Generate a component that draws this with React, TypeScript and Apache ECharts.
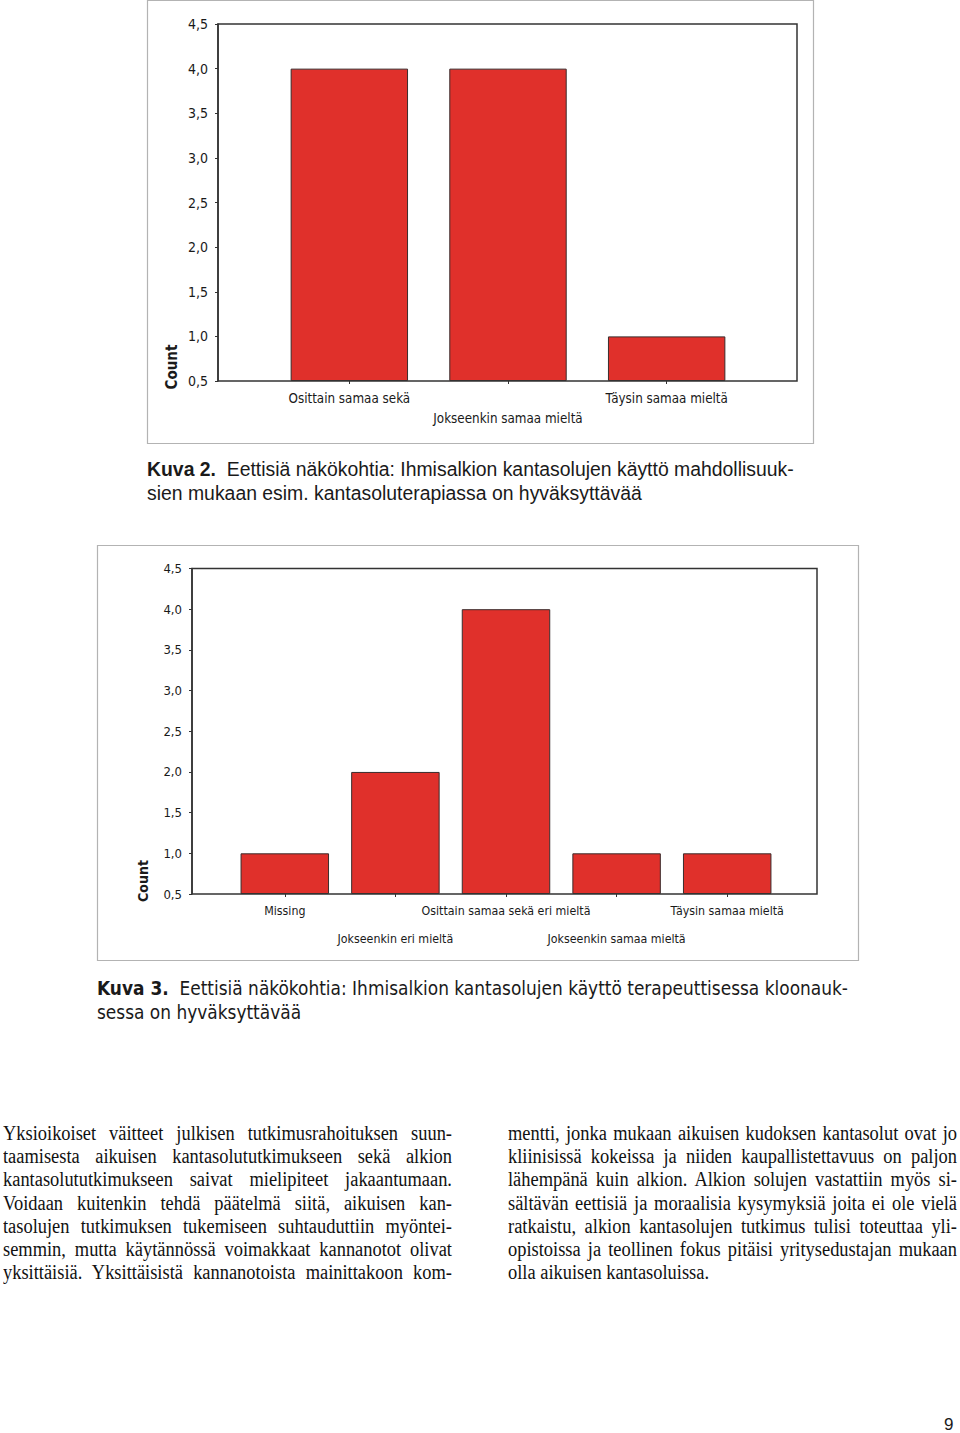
import React, { useEffect, useRef } from 'react';
import * as echarts from 'echarts';

// ---- data ----
const chart1Categories = ['Osittain samaa sekä', 'Jokseenkin samaa mieltä', 'Täysin samaa mieltä'];
const chart1Counts = [4, 4, 1];

const chart2Categories = [
  'Missing',
  'Jokseenkin eri mieltä',
  'Osittain samaa sekä eri mieltä',
  'Jokseenkin samaa mieltä',
  'Täysin samaa mieltä',
];
const chart2Counts = [1, 2, 4, 1, 1];

const yMin = 0.5;
const yMax = 4.5;
const yStep = 0.5;
const yAxisTitle = 'Count';

const caption2Lines = [
  ['Kuva 2.', '  Eettisiä näkökohtia: Ihmisalkion kantasolujen käyttö mahdollisuuk-'],
  ['', 'sien mukaan esim. kantasoluterapiassa on hyväksyttävää'],
];
const caption3Lines = [
  ['Kuva 3.', '  Eettisiä näkökohtia: Ihmisalkion kantasolujen käyttö terapeuttisessa kloonauk-'],
  ['', 'sessa on hyväksyttävää'],
];

const leftColumn = [
  'Yksioikoiset väitteet julkisen tutkimusrahoituksen suun-',
  'taamisesta aikuisen kantasolututkimukseen sekä alkion',
  'kantasolututkimukseen saivat mielipiteet jakaantumaan.',
  'Voidaan kuitenkin tehdä päätelmä siitä, aikuisen kan-',
  'tasolujen tutkimuksen tukemiseen suhtauduttiin myöntei-',
  'semmin, mutta käytännössä voimakkaat kannanotot olivat',
  'yksittäisiä. Yksittäisistä kannanotoista mainittakoon kom-',
];
const rightColumn = [
  'mentti, jonka mukaan aikuisen kudoksen kantasolut ovat jo',
  'kliinisissä kokeissa ja niiden kaupallistettavuus on paljon',
  'lähempänä kuin alkion. Alkion solujen vastattiin myös si-',
  'sältävän eettisiä ja moraalisia kysymyksiä joita ei ole vielä',
  'ratkaistu, alkion kantasolujen tutkimus tulisi toteuttaa yli-',
  'opistoissa ja teollinen fokus pitäisi yritysedustajan mukaan',
  'olla aikuisen kantasoluissa.',
];
const pageNumber = '9';

const NARROW = "'Liberation Sans Narrow', 'DejaVu Sans Condensed', 'Liberation Sans', sans-serif";

type Layout = {
  frame: [number, number, number, number];
  plotLeft: number;
  plotRight: number;
  plotTop: number;
  plotBottom: number;
  bandLeft: number;
  bandRight: number;
  gap: string;
  labelSize: number;
  labelLine: number;
  labelMargin: number;
  tickSize: number;
  countX: number;
  countY: number;
  countSize: number;
};

function buildOption(cats: string[], vals: number[], L: Layout) {
  return {
    animation: false,
    grid: {
      left: L.bandLeft,
      top: L.plotTop,
      width: L.bandRight - L.bandLeft,
      height: L.plotBottom - L.plotTop,
      containLabel: false,
    },
    xAxis: {
      type: 'category',
      data: cats,
      axisLine: { show: false },
      axisTick: { show: true, alignWithLabel: true, length: 3, lineStyle: { color: '#333', width: 1 } },
      axisLabel: {
        interval: 0,
        margin: L.labelMargin,
        fontSize: L.labelSize,
        lineHeight: L.labelLine,
        color: '#1a1a1a',
        fontFamily: NARROW,
        formatter: (v: string, i: number) => (i % 2 ? '\n' + v : v),
      },
    },
    yAxis: {
      type: 'value',
      min: yMin,
      max: yMax,
      interval: yStep,
      startValue: yMin,
      offset: L.bandLeft - L.plotLeft,
      splitLine: { show: false },
      axisLine: { show: true, lineStyle: { color: '#333', width: 1.5 } },
      axisTick: { show: true, length: 3, lineStyle: { color: '#333', width: 1 } },
      axisLabel: {
        margin: 10,
        fontSize: L.tickSize,
        color: '#1a1a1a',
        fontFamily: NARROW,
        formatter: (v: number) => v.toFixed(1).replace('.', ','),
      },
    },
    series: [
      {
        type: 'bar',
        data: vals,
        barCategoryGap: L.gap,
        itemStyle: { color: '#e0302b', borderColor: '#3a2c2c', borderWidth: 1 },
      },
    ],
    graphic: [
      {
        type: 'rect',
        z: 0,
        shape: { x: L.frame[0], y: L.frame[1], width: L.frame[2], height: L.frame[3] },
        style: { fill: 'none', stroke: '#b3b3b3', lineWidth: 1.2 },
      },
      {
        type: 'rect',
        z: 100,
        shape: {
          x: L.plotLeft,
          y: L.plotTop,
          width: L.plotRight - L.plotLeft,
          height: L.plotBottom - L.plotTop,
        },
        style: { fill: 'none', stroke: '#333', lineWidth: 1.5 },
      },
      {
        type: 'text',
        x: L.countX,
        y: L.countY,
        rotation: Math.PI / 2,
        style: {
          text: yAxisTitle,
          font: `bold ${L.countSize}px ${NARROW}`,
          fill: '#1a1a1a',
          textAlign: 'center',
          textVerticalAlign: 'middle',
        },
      },
    ],
  };
}

const layout1: Layout = {
  frame: [147.5, 0.5, 666, 443],
  plotLeft: 218,
  plotRight: 797,
  plotTop: 24,
  plotBottom: 381,
  bandLeft: 270,
  bandRight: 746,
  gap: '26%',
  labelSize: 13.3,
  labelLine: 20,
  labelMargin: 7,
  tickSize: 14,
  countX: 172,
  countY: 367,
  countSize: 15,
};

const layout2: Layout = {
  frame: [97.5, 5.5, 761, 415],
  plotLeft: 192,
  plotRight: 817,
  plotTop: 28.5,
  plotBottom: 354,
  bandLeft: 229.5,
  bandRight: 782.5,
  gap: '20%',
  labelSize: 12.3,
  labelLine: 28,
  labelMargin: 3,
  tickSize: 13,
  countX: 143,
  countY: 341,
  countSize: 14,
};

function BarChart(props: { cats: string[]; vals: number[]; layout: Layout; top: number; height: number }) {
  const ref = useRef<HTMLDivElement>(null);
  useEffect(() => {
    if (!ref.current) return;
    const chart = echarts.init(ref.current, undefined, { renderer: 'svg' });
    chart.setOption(buildOption(props.cats, props.vals, props.layout) as any);
    return () => chart.dispose();
  }, []);
  return (
    <div
      ref={ref}
      style={{ position: 'absolute', left: 0, top: props.top, width: 960, height: props.height }}
    />
  );
}

const SANS = "'Liberation Sans', Arial, sans-serif";
const SERIF = "'Liberation Serif', 'Times New Roman', serif";

function Caption(props: { lines: string[][]; left: number; top: number; size: number; family: string; lineHeight: number }) {
  return (
    <div
      style={{
        position: 'absolute',
        left: props.left,
        top: props.top,
        fontFamily: props.family,
        fontSize: props.size,
        lineHeight: props.lineHeight + 'px',
        color: '#1a1a1a',
        whiteSpace: 'pre',
      }}
    >
      {props.lines.map((l, i) => (
        <div key={i}>
          {l[0] ? <b>{l[0]}</b> : null}
          {l[1]}
        </div>
      ))}
    </div>
  );
}

const BODY_SCALE = 0.865;
const COL_W = 449;

function Column(props: { lines: string[]; left: number; top: number; lastFree: boolean }) {
  return (
    <div
      style={{
        position: 'absolute',
        left: props.left,
        top: props.top,
        width: COL_W / BODY_SCALE,
        transform: `scaleX(${BODY_SCALE})`,
        transformOrigin: 'left top',
        fontFamily: SERIF,
        fontSize: 21.3,
        lineHeight: '23.2px',
        color: '#111',
      }}
    >
      {props.lines.map((l, i) => {
        const justify = !(props.lastFree && i === props.lines.length - 1);
        return (
          <div
            key={i}
            style={{
              textAlign: justify ? 'justify' : 'left',
              textAlignLast: justify ? 'justify' : 'left',
              whiteSpace: 'nowrap',
            } as any}
          >
            {l}
          </div>
        );
      })}
    </div>
  );
}

export default function App() {
  return (
    <div
      style={{
        position: 'absolute',
        left: 0,
        top: 0,
        width: 960,
        height: 1433,
        background: '#fff',
        overflow: 'hidden',
      }}
    >
      <BarChart cats={chart1Categories} vals={chart1Counts} layout={layout1} top={0} height={450} />
      <Caption lines={caption2Lines} left={147} top={458} size={19.4} family={SANS} lineHeight={23.5} />
      <BarChart cats={chart2Categories} vals={chart2Counts} layout={layout2} top={540} height={430} />
      <Caption lines={caption3Lines} left={97} top={976} size={18.9} family={NARROW} lineHeight={24} />
      <Column lines={leftColumn} left={3} top={1122} lastFree={false} />
      <Column lines={rightColumn} left={508} top={1122} lastFree={true} />
      <div
        style={{
          position: 'absolute',
          left: 944,
          top: 1414,
          fontFamily: SANS,
          fontSize: 17,
          lineHeight: '22px',
          color: '#1a1a1a',
        }}
      >
        {pageNumber}
      </div>
    </div>
  );
}
